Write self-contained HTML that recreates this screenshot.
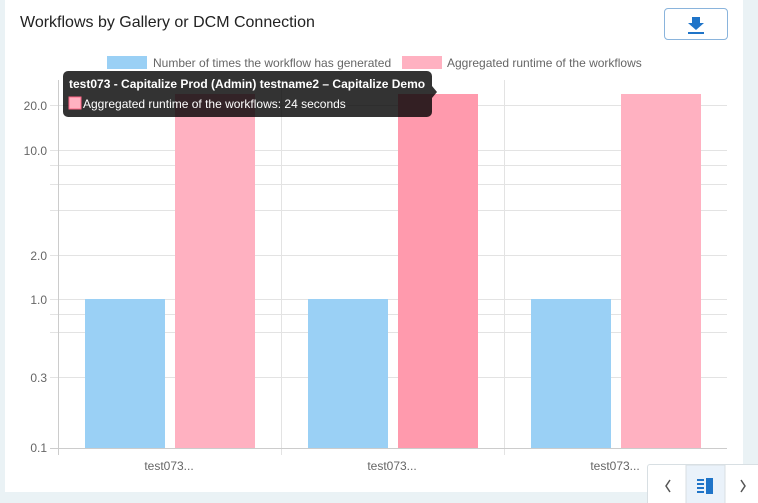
<!DOCTYPE html>
<html><head><style>
html,body{margin:0;width:758px;height:503px;overflow:hidden}
body{background:#eaf2f5;font-family:"Liberation Sans",sans-serif;position:relative}
.card{position:absolute;left:5px;top:0;width:738px;height:492px;background:#fff}
.title{position:absolute;left:20px;top:14px;font-size:16px;color:#222}
.btn{position:absolute;left:664px;top:8px;width:62px;height:30px;border:1px solid #8ab4dc;border-radius:4px;background:#fff}
.pager{position:absolute;left:647px;top:464px;width:115px;height:39px;background:#fff;border:1px solid #d8dfe3;border-bottom:none;border-radius:3px 3px 0 0;overflow:hidden}
</style></head><body>
<div class="card"></div>
<div class="title">Workflows by Gallery or DCM Connection</div>
<div class="btn"><svg width="62" height="30"><path d="M27 8h8v6h4l-8 7-8-7h4z" fill="#1f74c8"/><rect x="23" y="23" width="16" height="2" fill="#1f74c8"/></svg></div>
<svg width="758" height="503" style="position:absolute;left:0;top:0" font-family="Liberation Sans, sans-serif">
<g fill="#666" font-size="12">
<rect x="107" y="56" width="40" height="13" fill="#9ad0f5"/><text x="153" y="67">Number of times the workflow has generated</text>
<rect x="402" y="56" width="40" height="13" fill="#ffb1c1"/><text x="447" y="67">Aggregated runtime of the workflows</text>
</g>
<g stroke="#e3e3e3" stroke-width="1">
<line x1="50" x2="727" y1="105.5" y2="105.5"/><line x1="50" x2="727" y1="150.5" y2="150.5"/>
<line x1="50" x2="727" y1="165.5" y2="165.5"/><line x1="50" x2="727" y1="184.5" y2="184.5"/>
<line x1="50" x2="727" y1="210.5" y2="210.5"/><line x1="50" x2="727" y1="255.5" y2="255.5"/>
<line x1="50" x2="727" y1="299.5" y2="299.5"/><line x1="50" x2="727" y1="314.5" y2="314.5"/>
<line x1="50" x2="727" y1="332.5" y2="332.5"/><line x1="50" x2="727" y1="377.5" y2="377.5"/>
<line x1="281.5" x2="281.5" y1="80" y2="455"/><line x1="504.5" x2="504.5" y1="80" y2="455"/>
</g>
<line x1="58.5" x2="58.5" y1="80" y2="455" stroke="#ccc"/>
<line x1="50" x2="727" y1="448.5" y2="448.5" stroke="#ccc"/>
<g fill="#9ad0f5"><rect x="85" y="299" width="80" height="149"/><rect x="308" y="299" width="80" height="149"/><rect x="531" y="299" width="80" height="149"/></g>
<rect x="175" y="94" width="80" height="354" fill="#ffb1c1"/>
<rect x="398" y="94" width="80" height="354" fill="#ff9aad"/>
<rect x="621" y="94" width="80" height="354" fill="#ffb1c1"/>
<g fill="#666" font-size="12" text-anchor="end">
<text x="47" y="110">20.0</text><text x="47" y="155">10.0</text><text x="47" y="260">2.0</text>
<text x="47" y="304">1.0</text><text x="47" y="382">0.3</text><text x="47" y="452">0.1</text>
</g>
<g fill="#666" font-size="12" text-anchor="middle">
<text x="169" y="470">test073...</text><text x="392" y="470">test073...</text><text x="615" y="470">test073...</text>
</g>
<rect x="63" y="71" width="369" height="46" rx="5" fill="rgba(0,0,0,0.8)"/>
<path d="M432 86l5 6-5 6z" fill="rgba(0,0,0,0.8)"/>
<text x="69" y="88" fill="#fff" font-size="12" font-weight="bold">test073 - Capitalize Prod (Admin) testname2 – Capitalize Demo</text>
<rect x="69" y="97" width="12" height="12" fill="#ffb1c1" stroke="#ff6384"/>
<text x="83" y="108" fill="#fff" font-size="12">Aggregated runtime of the workflows: 24 seconds</text>
</svg>
<div class="pager"><svg width="115" height="39">
<rect x="38" y="0" width="39" height="40" fill="#eaf2fa" stroke="#d8dfe3"/>
<path d="M22 15l-4 6 4 6" stroke="#555" fill="none" stroke-width="1.5"/>
<path d="M93 15l4 6-4 6" stroke="#555" fill="none" stroke-width="1.5"/>
<g fill="#1f74c8"><rect x="49" y="14" width="7" height="2"/><rect x="49" y="18" width="7" height="2"/><rect x="49" y="22" width="7" height="2"/><rect x="49" y="26" width="7" height="2"/><rect x="58" y="13" width="7" height="16"/></g>
</svg></div>
</body></html>
